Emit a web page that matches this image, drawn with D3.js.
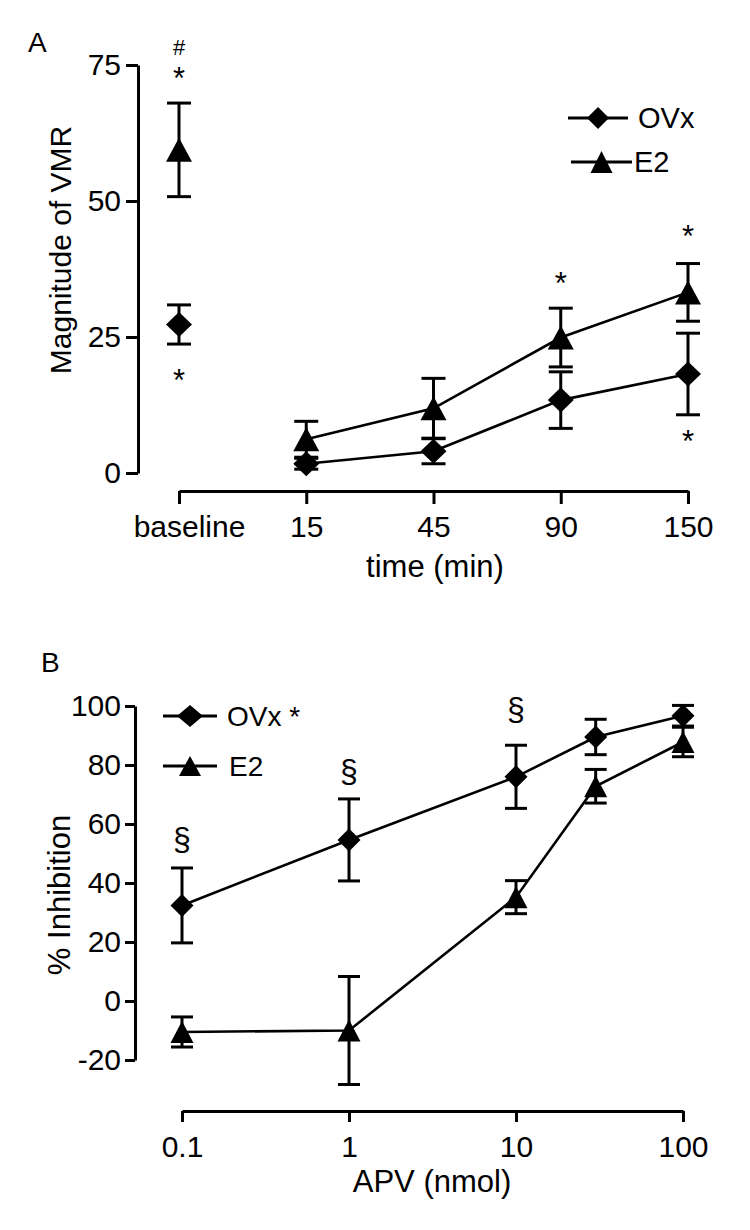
<!DOCTYPE html>
<html>
<head>
<meta charset="utf-8">
<script src="https://cdn.jsdelivr.net/npm/d3@7"></script>
<style>
  html, body { margin: 0; padding: 0; background: #fff; }
  svg { display: block; }
  text { font-family: "Liberation Sans", Arial, sans-serif; fill: #000; }
</style>
</head>
<body>
<script>
// ---------- Panel A data ----------
const timeCats = ["baseline", "15", "45", "90", "150"];
const ovxVMR    = [27.3, 1.7, 4.0, 13.4, 18.2];
const ovxVMRErr = [3.6, 1.0, 2.3, 5.2, 7.5];
const e2VMR     = [59.4, 6.2, 11.9, 24.9, 33.2];
const e2VMRErr  = [8.6, 3.3, 5.5, 5.4, 5.3];
const vmrTicks  = [0, 25, 50, 75];
// annotations: category, value position, symbol
const annotA = [
  { cat: "baseline", v: 78.3, t: "#" },
  { cat: "baseline", v: 73.3, t: "*" },
  { cat: "baseline", v: 17.8, t: "*" },
  { cat: "90",  v: 35.5, t: "*" },
  { cat: "150", v: 44.3, t: "*" },
  { cat: "150", v: 6.6,  t: "*" }
];

// ---------- Panel B data ----------
const apvDoses  = [0.1, 1, 10, 30, 100];
const ovxInh    = [32.4, 54.6, 76.0, 89.5, 96.7];
const ovxInhErr = [12.7, 13.9, 10.7, 6.0, 3.5];
const e2Inh     = [-10.5, -10.0, 35.2, 72.8, 87.8];
const e2InhErr  = [5.1, 18.3, 5.6, 5.7, 5.0];
const inhTicks  = [-20, 0, 20, 40, 60, 80, 100];
const inhTickLabels = ["-20", "0", "20", "40", "60", "80", "100"];
const apvTicks  = [0.1, 1, 10, 100];
const apvTickLabels = ["0.1", "1", "10", "100"];
const annotB = [
  { x: 0.1, v: 54.2, t: "§" },
  { x: 1,   v: 77.0, t: "§" },
  { x: 10,  v: 98.3, t: "§" }
];

const W = 750, H = 1230;
const svg = d3.select("body").append("svg").attr("width", W).attr("height", H);
svg.append("rect").attr("width", W).attr("height", H).attr("fill", "#fff");

function diamondPath(w, h) {
  const p = d3.path();
  p.moveTo(0, -h / 2); p.lineTo(w / 2, 0); p.lineTo(0, h / 2); p.lineTo(-w / 2, 0); p.closePath();
  return p.toString();
}
function trianglePath(w, h) {
  const p = d3.path();
  p.moveTo(0, -h / 2); p.lineTo(w / 2, h / 2); p.lineTo(-w / 2, h / 2); p.closePath();
  return p.toString();
}

function styleAxis(g, fs) {
  g.select(".domain").attr("stroke", "#000").attr("stroke-width", 3);
  g.selectAll(".tick line").attr("stroke", "#000").attr("stroke-width", 3);
  g.selectAll(".tick text").attr("font-size", fs).attr("fill", "#000")
    .attr("font-family", '"Liberation Sans", Arial, sans-serif');
}

function drawSeries(g, xs, ys, vals, errs, shape, mw, mh, capW, connectFrom) {
  const pts = vals.map((v, i) => ({ x: xs(i), y: ys(v), lo: ys(v - errs[i]), hi: ys(v + errs[i]), i }));
  const eb = g.append("g");
  pts.forEach(p => {
    eb.append("line").attr("x1", p.x).attr("x2", p.x).attr("y1", p.hi).attr("y2", p.lo)
      .attr("stroke", "#000").attr("stroke-width", 3);
    [p.hi, p.lo].forEach(yy => eb.append("line")
      .attr("x1", p.x - capW / 2).attr("x2", p.x + capW / 2).attr("y1", yy).attr("y2", yy)
      .attr("stroke", "#000").attr("stroke-width", 3));
  });
  const linePts = pts.filter(p => p.i >= connectFrom);
  g.append("path").datum(linePts)
    .attr("d", d3.line().x(d => d.x).y(d => d.y))
    .attr("fill", "none").attr("stroke", "#000").attr("stroke-width", 2.6);
  const d = shape === "diamond" ? diamondPath(mw, mh) : trianglePath(mw, mh);
  g.selectAll(null).data(pts).enter().append("path")
    .attr("d", d).attr("transform", p => `translate(${p.x},${p.y})`).attr("fill", "#000");
}

function legend(g, x0, x1, y, shape, mw, mh, label, tx, fs) {
  g.append("line").attr("x1", x0).attr("x2", x1).attr("y1", y).attr("y2", y)
    .attr("stroke", "#000").attr("stroke-width", 3);
  const d = shape === "diamond" ? diamondPath(mw, mh) : trianglePath(mw, mh);
  g.append("path").attr("d", d).attr("transform", `translate(${(x0 + x1) / 2},${y})`).attr("fill", "#000");
  g.append("text").attr("x", tx).attr("y", y).attr("dy", "0.36em").attr("font-size", fs).text(label);
}

// ================= Panel A =================
const xA = d3.scalePoint().domain(timeCats).range([179, 688]);
const yA = d3.scaleLinear().domain([0, 75]).range([473, 65]);
const gA = svg.append("g");

gA.append("text").attr("x", 28).attr("y", 52).attr("font-size", 28).text("A");

const yAxisA = gA.append("g").attr("transform", "translate(138,0)")
  .call(d3.axisLeft(yA).tickValues(vmrTicks).tickSize(12).tickPadding(5).tickSizeOuter(0));
styleAxis(yAxisA, 30);

const xAxisA = gA.append("g").attr("transform", "translate(0,491)")
  .call(d3.axisBottom(xA).tickSize(13).tickPadding(12).tickSizeOuter(0));
styleAxis(xAxisA, 30);
xAxisA.selectAll(".tick text").filter(d => d === "baseline").attr("dx", 10);

gA.append("text").attr("x", 435).attr("y", 577).attr("text-anchor", "middle")
  .attr("font-size", 31).text("time (min)");
gA.append("text").attr("transform", "translate(71,250) rotate(-90)").attr("text-anchor", "middle")
  .attr("font-size", 30).text("Magnitude of VMR");

const xiA = i => xA(timeCats[i]);
drawSeries(gA, xiA, yA, e2VMR, e2VMRErr, "triangle", 26, 24, 24, 1);
drawSeries(gA, xiA, yA, ovxVMR, ovxVMRErr, "diamond", 26, 25, 24, 1);

annotA.forEach(a => {
  gA.append("text")
    .attr("x", xA(a.cat)).attr("y", yA(a.v))
    .attr("dy", a.t === "#" ? "0.34em" : "0.47em")
    .attr("text-anchor", "middle")
    .attr("font-size", a.t === "#" ? 22 : 31)
    .attr("font-family", '"Liberation Serif", "Times New Roman", serif')
    .text(a.t);
});

legend(gA, 568, 628, 118, "diamond", 22, 22, "OVx", 638, 29);
legend(gA, 571, 632, 162, "triangle", 22, 22, "E2", 634, 29);

// ================= Panel B =================
const xB = d3.scaleLog().domain([0.1, 100]).range([182, 683]);
const yB = d3.scaleLinear().domain([-20, 100]).range([1060, 706]);
const gB = svg.append("g");

gB.append("text").attr("x", 41).attr("y", 672).attr("font-size", 28).text("B");

const yAxisB = gB.append("g").attr("transform", "translate(135,0)")
  .call(d3.axisLeft(yB).tickValues(inhTicks).tickFormat((d, i) => inhTickLabels[i])
    .tickSize(10).tickPadding(4).tickSizeOuter(0));
styleAxis(yAxisB, 30);

const xAxisB = gB.append("g").attr("transform", "translate(0,1111)")
  .call(d3.axisBottom(xB).tickValues(apvTicks).tickFormat((d, i) => apvTickLabels[i])
    .tickSize(11).tickPadding(14).tickSizeOuter(0));
styleAxis(xAxisB, 30);

gB.append("text").attr("x", 432).attr("y", 1192).attr("text-anchor", "middle")
  .attr("font-size", 31).text("APV (nmol)");
gB.append("text").attr("transform", "translate(70,895) rotate(-90)").attr("text-anchor", "middle")
  .attr("font-size", 31).text("% Inhibition");

const xiB = i => xB(apvDoses[i]);
drawSeries(gB, xiB, yB, e2Inh, e2InhErr, "triangle", 23, 22, 22, 0);
drawSeries(gB, xiB, yB, ovxInh, ovxInhErr, "diamond", 23, 23, 22, 0);

annotB.forEach(a => {
  gB.append("text")
    .attr("x", xB(a.x)).attr("y", yB(a.v)).attr("dy", "0.27em")
    .attr("text-anchor", "middle").attr("font-size", 32)
    .attr("font-family", '"Liberation Serif", "Times New Roman", serif')
    .text(a.t);
});

legend(gB, 163, 217, 716, "diamond", 26, 22, "OVx *", 227, 28);
legend(gB, 163, 217, 766, "triangle", 22, 20, "E2", 229, 28);
</script>
</body>
</html>
